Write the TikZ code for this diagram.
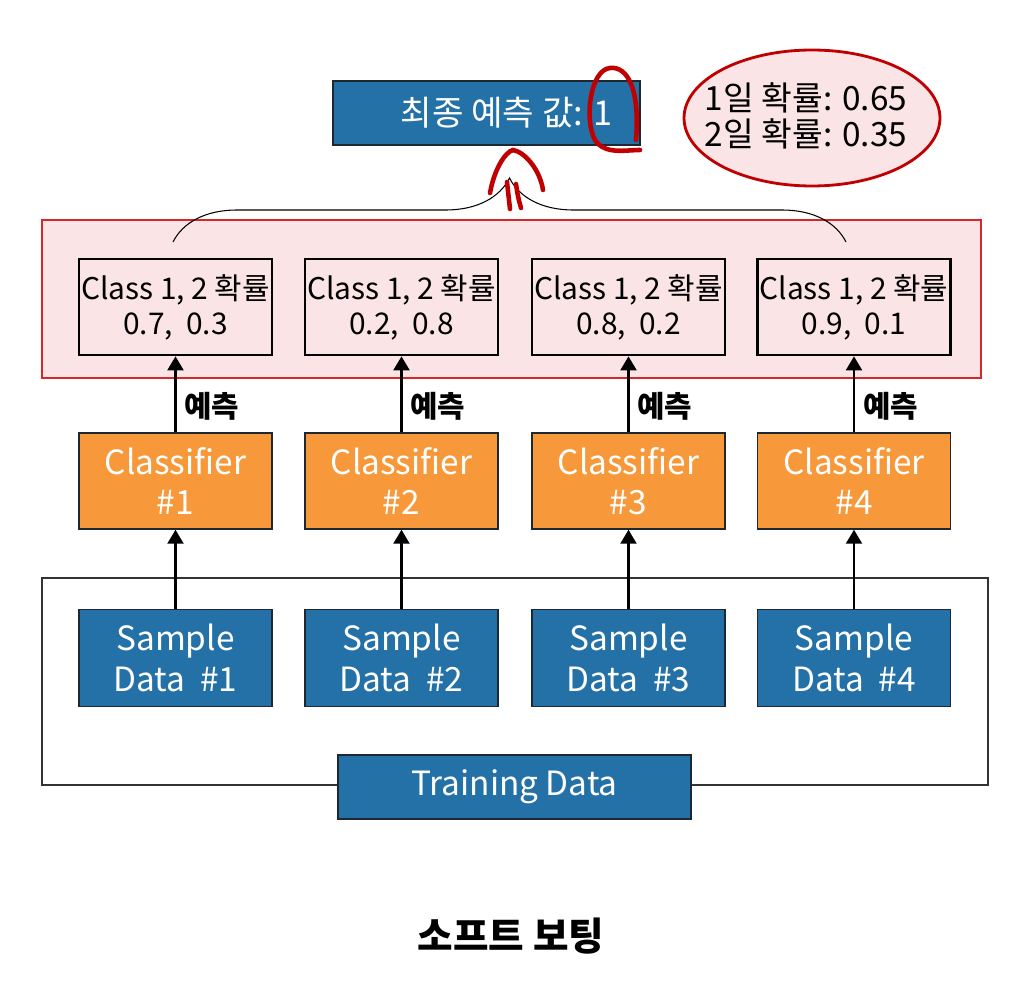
\documentclass[tikz,border=0pt]{standalone}
\usepackage{fontspec}
\setmainfont{Noto Sans CJK KR}
\usetikzlibrary{arrows.meta,positioning,shapes.geometric,decorations.pathreplacing}
\definecolor{boxblue}{RGB}{36,113,168}
\definecolor{boxorange}{RGB}{247,153,58}
\definecolor{softpink}{RGB}{251,228,229}
\definecolor{markred}{RGB}{192,0,0}
\definecolor{panelred}{RGB}{214,40,40}
\definecolor{edgedark}{RGB}{30,40,50}

\begin{document}
\begin{tikzpicture}[x=0.02cm, y=-0.02cm,
    probbox/.style={draw, line width=1.5pt, minimum width=3.86cm, minimum height=1.92cm,
                    inner sep=0pt, align=center, font=\fontsize{17}{20}\selectfont},
    clfbox/.style={draw=edgedark, line width=0.8pt, fill=boxorange, text=white,
                   minimum width=3.86cm, minimum height=1.92cm, inner sep=0pt,
                   align=center, font=\fontsize{19}{23}\selectfont},
    databox/.style={draw=edgedark, line width=0.8pt, fill=boxblue, text=white,
                    minimum width=3.86cm, minimum height=1.94cm, inner sep=0pt,
                    align=center, font=\fontsize{19}{23}\selectfont},
    arr/.style={-{Triangle[length=8pt,width=9pt]}, line width=1.6pt},
    pred/.style={right, font=\bfseries\fontsize{17}{20}\selectfont, yshift=-7pt, xshift=1pt},
    redmark/.style={markred, line width=2.6pt, line cap=round}
]
\useasboundingbox (0,0) rectangle (1036,1000);

\node[databox, minimum width=6.14cm, minimum height=1.28cm, font=\fontsize{19.5}{23}\selectfont]
    (final) at (486.5,113) {\hspace*{0.8cm}최종 예측 값: 1};
\draw[markred, line width=1.6pt, fill=softpink] (812,118) ellipse [x radius=2.56cm, y radius=1.36cm];
\node[align=center, font=\fontsize{19}{20.5}\selectfont] (vote) at (806,116) {1일 확률: 0.65\\2일 확률: 0.35};

\draw[panelred, line width=1pt, fill=softpink] (42,220) rectangle (981,378);
\coordinate (braceL) at (173,242);
\coordinate (braceR) at (846,242);
\draw[decorate, decoration={brace, amplitude=1.28cm}, line width=0.6pt] (braceL) -- (braceR);

\node[probbox] (prob1) at (175.5,307) {Class 1, 2 확률\\0.7,\ \ 0.3};
\node[probbox] (prob2) at (401.5,307) {Class 1, 2 확률\\0.2,\ \ 0.8};
\node[probbox] (prob3) at (628.5,307) {Class 1, 2 확률\\0.8,\ \ 0.2};
\node[probbox] (prob4) at (854,307) {Class 1, 2 확률\\0.9,\ \ 0.1};

\node[clfbox] (clf1) at (175.5,481) {Classifier\\\#1};
\node[clfbox] (clf2) at (401.5,481) {Classifier\\\#2};
\node[clfbox] (clf3) at (628.5,481) {Classifier\\\#3};
\node[clfbox] (clf4) at (854,481) {Classifier\\\#4};

\draw[black!80, line width=0.8pt] (42,578) rectangle (988,785);

\node[databox] (sample1) at (175.5,658) {Sample\\Data\ \ \#1};
\node[databox] (sample2) at (401.5,658) {Sample\\Data\ \ \#2};
\node[databox] (sample3) at (628.5,658) {Sample\\Data\ \ \#3};
\node[databox] (sample4) at (854,658) {Sample\\Data\ \ \#4};

\node[databox, minimum width=7.06cm, minimum height=1.28cm] (train) at (514.5,787) {Training Data};

\draw[arr] (sample1) -- (clf1);
\draw[arr] (sample2) -- (clf2);
\draw[arr] (sample3) -- (clf3);
\draw[arr] (sample4) -- (clf4);
\draw[arr] (clf1) -- node[pred] {예측} (prob1);
\draw[arr] (clf2) -- node[pred] {예측} (prob2);
\draw[arr] (clf3) -- node[pred] {예측} (prob3);
\draw[arr] (clf4) -- node[pred] {예측} (prob4);

\draw[redmark] (636,140) .. controls (640,90) and (628,66) .. (610,68)
    .. controls (590,70) and (584,120) .. (595,140)
    .. controls (605,155) and (625,150) .. (640,150);
\draw[redmark] (490,193) .. controls (494,170) and (505,152) .. (513,150)
    .. controls (525,152) and (540,170) .. (543,190);
\draw[redmark] (507,182) .. controls (508,195) .. (510,209);
\draw[redmark] (516,184) .. controls (518,197) .. (521,208);

\node[font=\bfseries\fontsize{22}{25}\selectfont] (title) at (511,936) {소프트 보팅};
\end{tikzpicture}
\end{document}
